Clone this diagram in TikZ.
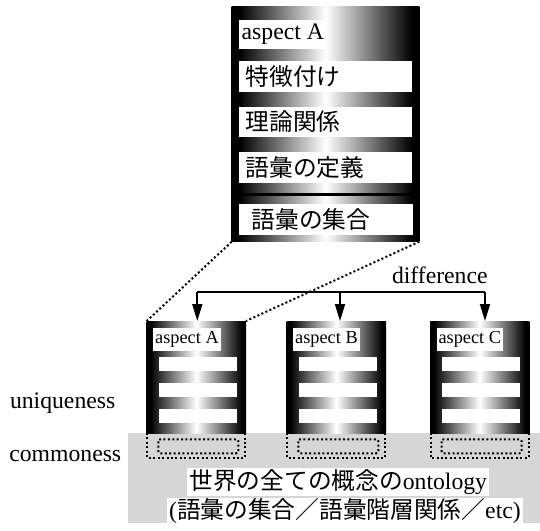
\documentclass[tikz,border=0pt]{standalone}
\usepackage{fontspec}
\setmainfont{Liberation Serif}
\newfontfamily\jp{Noto Sans CJK JP}
\usetikzlibrary{arrows.meta}
% cylinder-like shading: dark rims, bright centre
\pgfdeclarehorizontalshading{cylshade}{100bp}{color(0bp)=(black); color(27bp)=(black); color(50bp)=(white); color(73bp)=(black); color(100bp)=(black)}

\begin{document}
\begin{tikzpicture}[x=1pt,y=-1pt,
  every node/.style={inner sep=0pt, outer sep=0pt},
  cyl/.style={shading=cylshade, draw=none, anchor=north west},
  bigfont/.style={font=\fontsize{23.7}{28}\selectfont},
  smallfont/.style={font=\fontsize{18.3}{22}\selectfont},
  bigbar/.style={fill=white, anchor=north west, align=left, bigfont},
  smalllabel/.style={fill=white, anchor=north west, smallfont, inner xsep=2pt, minimum height=23pt},
  dotline/.style={line width=2pt, dash pattern=on 2pt off 2.4pt},
  bus/.style={line width=1.8pt},
  arr/.style={line width=1.8pt, -{Triangle[length=17pt,width=10pt]}},
  common/.style={fill=black!16, draw=none},
]
\useasboundingbox (0,0) rectangle (540,530);

% enlarged aspect block
\node[cyl, minimum width=187.6pt, minimum height=235pt] (big) at (231.7,6.7) {};
\node[fill=white, anchor=north west, bigfont, inner xsep=2.4pt, minimum height=29.3pt] (bigasp) at (239.3,20) {aspect A};
\node[bigbar, text width=160pt, inner xsep=6.35pt, minimum height=30.7pt] (feat) at (239.3,61) {\jp 特徴付け};
\node[bigbar, text width=160pt, inner xsep=6.35pt, minimum height=30.6pt] (theory) at (239.3,106.7) {\jp 理論関係};
\node[bigbar, text width=160pt, inner xsep=6.35pt, minimum height=31pt] (defn) at (239.3,151.7) {\jp 語彙の定義};
\draw[line width=2.5pt] (231.7,194.3) -- (419.3,194.3);
\node[bigbar, text width=149pt, inner xsep=12.35pt, minimum height=31pt] (vocab) at (239.3,204) {\jp 語彙の集合};

% shared ontology area
\fill[common] (128.3,432.7) rectangle (540,523);

% the three aspect blocks
\foreach \n/\x in {A/146.7,B/286.7,C/430}{
  \node[cyl, minimum width=99.3pt, minimum height=112pt] (b\n) at (\x,321) {};
  \node[smalllabel] (l\n) at (\x+6.5,328) {aspect \n};
  \foreach \y in {357,383,409}{
    \fill[white] (\x+12.3,\y) rectangle +(78,14);
  }
  \draw[dotline] (\x+0.5,433) -- (\x+0.5,457.7) -- (\x+98.5,457.7) -- (\x+98.5,433);
  \draw[dotline, rounded corners=2pt] (\x+11.6,439.3) rectangle (\x+91.6,453.3);
}

% zoom lines from block A to its enlargement
\draw[dotline] (big.south west) -- (bA.north west);
\draw[dotline] (big.south east) -- (bA.north east);

% difference arrows
\coordinate (dA) at (197.3,292.3);
\coordinate (dB) at (340,292.3);
\coordinate (dC) at (485,292.3);
\draw[bus] (dA) -- (dC);
\draw[arr] (dA) -- (dA |- bA.north);
\draw[arr] (dB) -- (dB |- bB.north);
\draw[arr] (dC) -- (dC |- bC.north);
\node[bigfont, anchor=base west] (diff) at (392,283.3) {difference};

% side labels
\node[bigfont, anchor=base west] (uniq) at (10,408) {uniqueness};
\node[bigfont, anchor=base west] (comm) at (9.3,461.7) {commoness};

% ontology caption
\node[fill=white, minimum width=302pt, minimum height=28pt, bigfont] (ont1) at (338.3,481.7) {{\jp 世界の全ての概念の}ontology};
\node[fill=white, minimum width=356.6pt, minimum height=26pt, bigfont] (ont2) at (345,511) {({\jp 語彙の集合／語彙階層関係／}etc)};
\end{tikzpicture}
\end{document}
